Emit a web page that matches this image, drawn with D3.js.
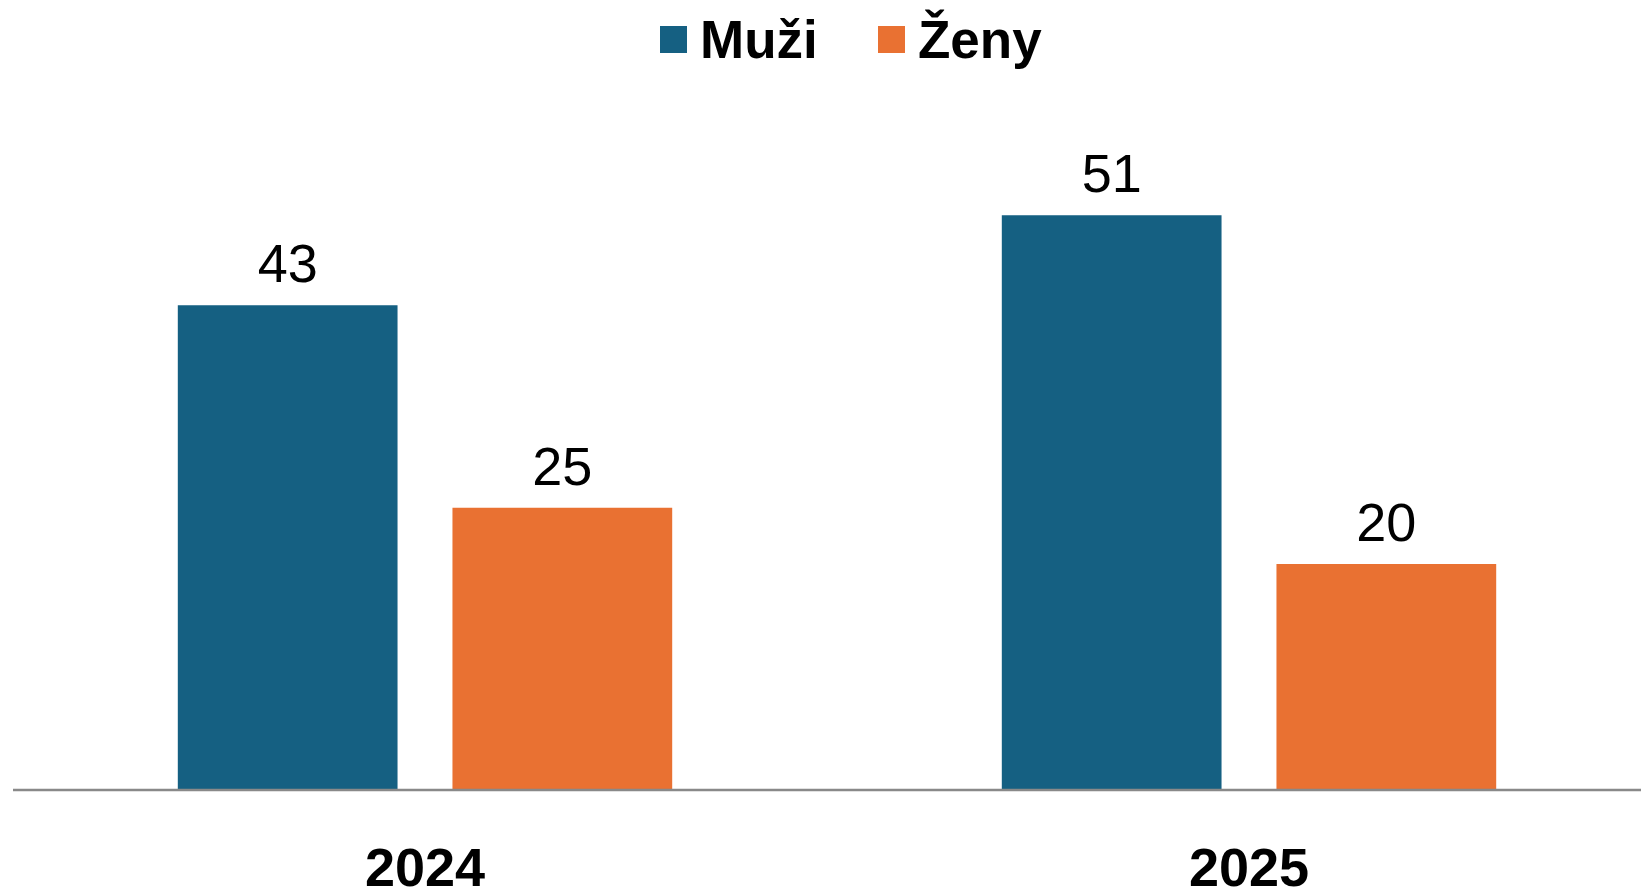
<!DOCTYPE html>
<html>
<head>
<meta charset="utf-8">
<script src="https://cdn.jsdelivr.net/npm/d3@7"></script>
<style>
  html, body { margin: 0; padding: 0; background: #fff; overflow: hidden; }
  svg { display: block; font-family: "Liberation Sans", Arial, sans-serif; }
</style>
</head>
<body>
<div id="chart"></div>
<script>
const years = ['2024', '2025'];
const series = ['Muži', 'Ženy'];
const muzi = [43, 51];
const zeny = [25, 20];
const colors = ['#156082', '#E97132'];

const width = 1641, height = 890;
const baseY = 789;

const rows = years.map((year, i) => ({ year, values: [muzi[i], zeny[i]] }));

const svg = d3.select('#chart').append('svg')
    .attr('width', width)
    .attr('height', height);

const x0 = d3.scaleBand()
    .domain(years)
    .range([13, 1661])
    .padding(0);

const x1 = d3.scaleBand()
    .domain(series)
    .range([0, x0.bandwidth()])
    .paddingInner(0.2)
    .paddingOuter(0.6);

const y = d3.scaleLinear()
    .domain([0, 60])
    .range([baseY, baseY - 60 * 11.25]);

const groups = svg.selectAll('g.group')
    .data(rows)
    .join('g')
    .attr('class', 'group')
    .attr('transform', d => `translate(${x0(d.year)},0)`);

const bars = groups.selectAll('g.bar')
    .data(d => d.values.map((v, i) => ({ name: series[i], value: v, i })))
    .join('g')
    .attr('class', 'bar');

bars.append('rect')
    .attr('x', d => x1(d.name))
    .attr('y', d => y(d.value))
    .attr('width', x1.bandwidth())
    .attr('height', d => y(0) - y(d.value))
    .attr('fill', d => colors[d.i]);

bars.append('text')
    .attr('x', d => x1(d.name) + x1.bandwidth() / 2)
    .attr('y', d => y(d.value) - 23)
    .attr('text-anchor', 'middle')
    .style('font-size', '54px')
    .style('fill', '#000')
    .text(d => d.value);

// baseline axis
svg.append('line')
    .attr('x1', 13)
    .attr('x2', width)
    .attr('y1', baseY + 1)
    .attr('y2', baseY + 1)
    .attr('stroke', '#898989')
    .attr('stroke-width', 2.5);

// year labels (cut at the bottom edge, as in the source)
svg.selectAll('text.year')
    .data(years)
    .join('text')
    .attr('class', 'year')
    .attr('x', d => x0(d) + x0.bandwidth() / 2)
    .attr('y', 886)
    .attr('text-anchor', 'middle')
    .style('font-size', '54px')
    .style('font-weight', 'bold')
    .text(d => d);

// legend
const legendX = [660, 878];
const legend = svg.selectAll('g.legend')
    .data(series)
    .join('g')
    .attr('class', 'legend')
    .attr('transform', (d, i) => `translate(${legendX[i]},0)`);

legend.append('rect')
    .attr('x', 0)
    .attr('y', 26)
    .attr('width', 27)
    .attr('height', 27)
    .attr('fill', (d, i) => colors[i]);

legend.append('text')
    .attr('x', 40)
    .attr('y', 58)
    .style('font-size', '53px')
    .style('font-weight', 'bold')
    .text(d => d);
</script>
</body>
</html>
